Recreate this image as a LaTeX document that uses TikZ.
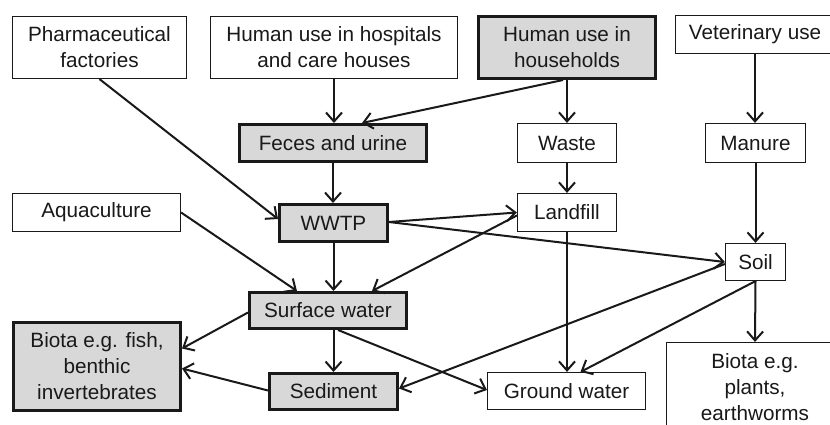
\documentclass[tikz,border=0pt]{standalone}
\usepackage{fontspec}
\setmainfont{Liberation Sans}
\usetikzlibrary{arrows.meta,calc}
\definecolor{boxgray}{RGB}{216,216,216}
\definecolor{ink}{RGB}{25,25,25}
\begin{document}
\begin{tikzpicture}[x=1pt,y=-1pt,
  every node/.style={font=\fontsize{20.7}{26}\selectfont, text=ink, align=center, inner sep=0pt},
  box/.style={draw=ink, line width=1.2pt, fill=white},
  gbox/.style={draw=ink, line width=3pt, fill=boxgray},
  arr/.style={draw=ink, line width=2pt, -{Straight Barb[length=9pt,width=16pt,line width=2pt]}}]
\useasboundingbox (0,0) rectangle (830,424);
\clip (0,0) rectangle (830,424);
% nodes
\node[box, minimum width=174, minimum height=62] (pharma) at (99.5,47.5) {Pharmaceutical\\factories};
\node[box, minimum width=247, minimum height=62] (hosp) at (334,47.5) {Human use in hospitals\\and care houses};
\node[gbox, minimum width=177, minimum height=62] (house) at (567,47.5) {Human use in\\households};
\node[box, minimum width=159, minimum height=38] (vet) at (755,34.5) {Veterinary use};
\node[gbox, minimum width=187, minimum height=37] (feces) at (333,143) {Feces and urine};
\node[box, minimum width=99, minimum height=39] (waste) at (567,143) {Waste};
\node[box, minimum width=100, minimum height=39] (manure) at (755.5,143) {Manure};
\node[box, minimum width=168, minimum height=38] (aqua) at (96.5,212.5) {Aquaculture};
\node[gbox, minimum width=108, minimum height=37] (wwtp) at (333.5,223) {WWTP};
\node[box, minimum width=99, minimum height=38] (landfill) at (567,212.5) {Landfill};
\node[box, minimum width=60, minimum height=37] (soil) at (755.5,262) {Soil};
\node[gbox, minimum width=157, minimum height=36] (surface) at (328,310.5) {Surface water};
\node[gbox, minimum width=167, minimum height=88] (biotaf) at (97,366.5) {Biota e.g. fish,\\benthic\\invertebrates};
\node[gbox, minimum width=128, minimum height=36] (sediment) at (333.5,391.5) {Sediment};
\node[box, minimum width=158, minimum height=37] (ground) at (566.5,391) {Ground water};
\node[box, minimum width=177, minimum height=90] (biotap) at (755,387.5) {Biota e.g.\\plants,\\earthworms};
% connectors
\draw[arr] (pharma.south) -- ($(wwtp.west)+(0,-4)$);
\draw[arr] (hosp.south) -- (hosp.south |- feces.north);
\draw[arr] ($(house.south)+(-4,0)$) -- ($(feces.north)+(29,0)$);
\draw[arr] (house.south) -- (waste.north);
\draw[arr] (feces.south) -- (feces.south |- wwtp.north);
\draw[arr] (waste.south) -- (landfill.north);
\draw[arr] (vet.south) -- (vet.south |- manure.north);
\draw[arr] (manure.south) -- (manure.south |- soil.north);
\draw[arr] ($(wwtp.east)+(0,-1)$) -- (landfill.west);
\draw[arr] ($(wwtp.east)+(0,-1)$) -- (soil.west);
\draw[arr] ($(landfill.west)+(0,3)$) -- ($(surface.north)+(44,0)$);
\draw[arr] (wwtp.south) -- (wwtp.south |- surface.north);
\draw[arr] (aqua.east) -- ($(surface.north)+(-31,0)$);
\draw[arr] ($(surface.west)+(0,2)$) -- ($(biotaf.east)+(0,-18)$);
\draw[arr] ($(sediment.west)+(0,-1)$) -- ($(biotaf.east)+(0,2)$);
\draw[arr] (sediment.north |- surface.south) -- (sediment.north);
\draw[arr] ($(surface.south)+(10,0)$) -- ($(ground.west)+(0,-1)$);
\draw[arr] ($(soil.west)+(0,2)$) -- ($(sediment.east)+(0,-3)$);
\draw[arr] (soil.south) -- ($(ground.north)+(14,0)$);
\draw[arr] (landfill.south) -- (landfill.south |- ground.north);
\draw[arr] (soil.south) -- (biotap.north);
\end{tikzpicture}
\end{document}
